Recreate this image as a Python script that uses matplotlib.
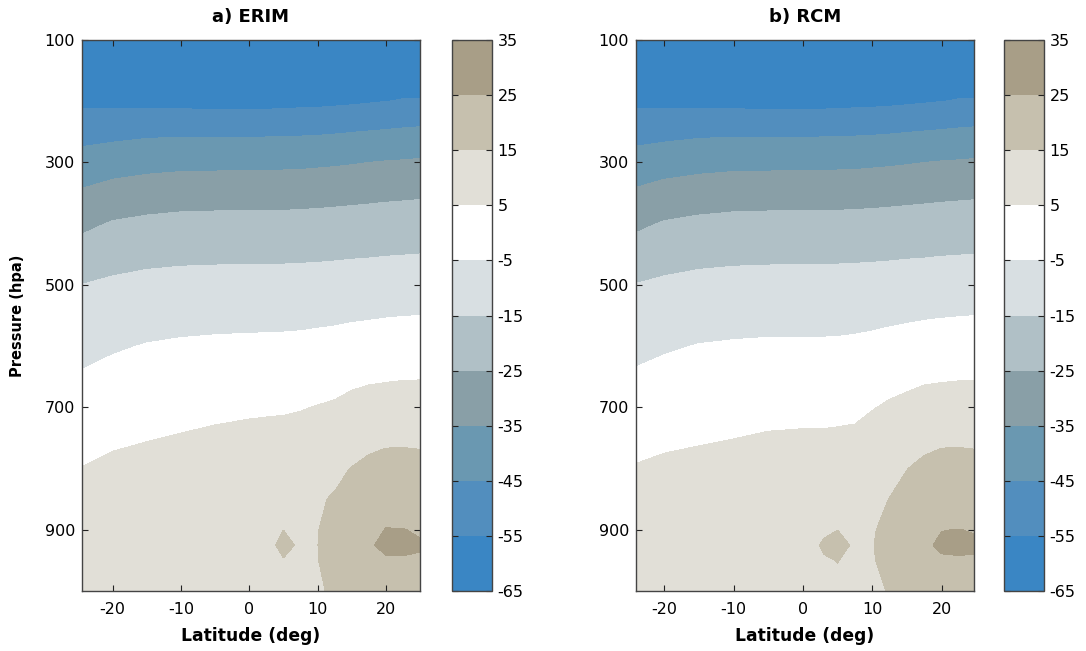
import numpy as np
import matplotlib.pyplot as plt

plt.rcParams['font.family'] = ['DejaVu Sans']
plt.rcParams['axes.unicode_minus'] = False

# zonal mean temperature (deg C), rows = pressure levels, columns = latitudes
lats = [-24.5, -20, -15, -10, -5, 0, 3, 5, 7.5, 10, 12.5, 15, 17.5, 20, 22.5, 25]
pressure = [100, 200, 250, 300, 350, 400, 500, 600, 700, 750, 800, 850, 900, 925, 950, 1000]

erim_temp = [
    [-64.5] * 16,
    [-56.9, -57.1, -57.6, -57.8, -58.0, -58.0, -57.9, -57.7, -57.4, -57.2, -56.8, -56.3, -55.7, -55.1, -54.6, -54.5],
    [-48.7, -47.9, -46.9, -46.6, -46.6, -46.6, -46.6, -46.5, -46.3, -46.1, -45.7, -45.2, -44.7, -44.2, -43.6, -43.1],
    [-41.1, -39.3, -38.1, -37.4, -37.3, -37.2, -37.1, -37.0, -36.9, -36.5, -36.1, -35.6, -35.0, -34.5, -34.2, -33.8],
    [-33.9, -31.5, -30.1, -29.3, -29.1, -29.0, -28.9, -28.9, -28.7, -28.4, -28.1, -27.7, -27.3, -26.9, -26.6, -26.3],
    [-27.1, -24.3, -23.0, -22.3, -22.1, -22.0, -22.0, -22.0, -21.8, -21.7, -21.4, -21.1, -20.9, -20.6, -20.4, -20.2],
    [-14.9, -13.4, -12.3, -11.8, -11.6, -11.4, -11.4, -11.4, -11.3, -11.1, -10.9, -10.6, -10.4, -10.1, -9.9, -9.7],
    [-7.5, -5.9, -4.6, -3.9, -3.5, -3.3, -3.2, -3.1, -2.9, -2.5, -2.1, -1.5, -1.1, -0.7, -0.4, -0.3],
    [-0.95, 0.5, 1.6, 2.4, 3.1, 3.7, 4.0, 4.1, 4.55, 5.3, 6.0, 7.5, 8.5, 8.9, 9.2, 9.3],
    [2.1, 3.6, 4.6, 5.5, 6.4, 7.1, 7.3, 7.5, 8.1, 8.8, 9.8, 11.5, 13.2, 14.0, 14.0, 13.8],
    [5.2, 6.8, 7.9, 8.3, 9.0, 9.4, 9.6, 9.8, 10.3, 11.3, 13.6, 15.2, 16.5, 17.0, 17.2, 17.0],
    [8.0, 9.0, 9.8, 10.3, 10.8, 11.2, 11.4, 11.6, 12.2, 14.4, 15.5, 17.0, 18.5, 20.5, 21.0, 20.5],
    [10.5, 11.5, 12.0, 12.3, 12.6, 13.0, 13.2, 14.98, 14.2, 14.9, 16.2, 18.5, 22.0, 25.3, 25.2, 24.3],
    [11.5, 12.5, 13.0, 13.2, 13.4, 13.8, 14.4, 15.8, 14.55, 14.95, 17.0, 19.0, 24.5, 26.0, 26.8, 25.6],
    [12.0, 13.0, 13.5, 13.6, 13.8, 14.0, 14.1, 14.85, 14.5, 14.9, 16.5, 18.5, 22.5, 24.5, 24.2, 24.3],
    [13.0, 13.5, 14.0, 14.1, 14.2, 14.3, 14.4, 14.5, 14.6, 14.6, 15.5, 17.5, 19.0, 21.0, 21.5, 21.5],
]

rcm_temp = [
    [-64.5] * 16,
    [-56.9, -57.1, -57.6, -57.8, -58.0, -58.0, -57.9, -57.7, -57.4, -57.2, -56.8, -56.3, -55.7, -55.1, -54.6, -54.5],
    [-48.7, -47.9, -46.9, -46.6, -46.6, -46.6, -46.6, -46.5, -46.3, -46.1, -45.7, -45.2, -44.7, -44.2, -43.6, -43.1],
    [-41.1, -39.3, -38.1, -37.4, -37.3, -37.2, -37.1, -37.0, -36.9, -36.5, -36.1, -35.6, -35.0, -34.5, -34.2, -33.8],
    [-33.9, -31.5, -30.1, -29.3, -29.1, -29.0, -28.9, -28.9, -28.7, -28.4, -28.1, -27.7, -27.3, -26.9, -26.6, -26.3],
    [-27.1, -24.3, -23.0, -22.3, -22.1, -22.0, -22.0, -22.0, -21.8, -21.7, -21.4, -21.1, -20.9, -20.6, -20.4, -20.2],
    [-14.9, -13.4, -12.3, -11.8, -11.6, -11.4, -11.4, -11.4, -11.3, -11.1, -10.9, -10.6, -10.4, -10.1, -9.9, -9.7],
    [-7.4, -5.9, -4.7, -4.2, -3.9, -3.9, -3.9, -3.8, -3.5, -3.0, -2.3, -1.7, -1.1, -0.75, -0.5, -0.3],
    [-0.8, 0.4, 1.2, 1.85, 2.5, 2.7, 2.7, 2.9, 3.2, 4.6, 6.1, 7.25, 8.5, 8.9, 9.2, 9.3],
    [2.3, 3.4, 4.2, 4.9, 5.7, 6.0, 6.0, 6.2, 6.5, 8.4, 9.8, 11.3, 13.0, 14.0, 14.0, 13.8],
    [5.4, 6.6, 7.3, 8.1, 8.6, 9.0, 9.1, 9.3, 9.8, 11.0, 13.4, 14.9, 16.5, 17.0, 17.2, 17.0],
    [8.0, 9.0, 9.8, 10.3, 10.7, 11.0, 11.3, 11.5, 12.0, 13.8, 15.1, 17.0, 18.5, 20.5, 21.0, 20.5],
    [10.5, 11.5, 12.0, 12.3, 12.6, 12.9, 14.6, 14.98, 14.2, 14.7, 16.0, 18.5, 22.0, 24.9, 25.1, 24.6],
    [11.5, 12.5, 13.0, 13.2, 13.4, 13.8, 15.3, 15.9, 14.6, 14.8, 16.8, 19.0, 24.2, 25.8, 26.5, 25.8],
    [12.0, 13.0, 13.5, 13.6, 13.8, 14.0, 14.8, 15.05, 14.5, 14.7, 16.3, 18.5, 22.5, 24.4, 24.3, 24.4],
    [13.0, 13.5, 14.0, 14.1, 14.2, 14.3, 14.4, 14.5, 14.5, 14.3, 15.2, 17.3, 19.0, 21.0, 21.5, 21.5],
]

levels = [-65, -55, -45, -35, -25, -15, -5, 5, 15, 25, 35]
level_colors = ['#3a86c4', '#528ebe', '#6a98b1', '#899fa7', '#b0c0c6',
                '#d8dfe2', '#ffffff', '#e1dfd7', '#c6c0ae', '#a89e87']

titles = ['a) ERIM', 'b) RCM']
fields = [erim_temp, rcm_temp]
xlims = [(-24.5, 25.0), (-24.05, 24.65)]
ax_lefts = [82, 636]
cb_lefts = [452, 1004]

W, H = 1086, 651
fig = plt.figure(figsize=(W / 100, H / 100), dpi=100)

edge = '#444444'
for i in range(2):
    ax = fig.add_axes([ax_lefts[i] / W, 60 / H, 338 / W, 551 / H])
    cax = fig.add_axes([cb_lefts[i] / W, 60 / H, 40 / W, 551 / H])

    cs = ax.contourf(lats, pressure, np.array(fields[i]), levels=levels, colors=level_colors)
    ax.set_xlim(*xlims[i])
    ax.set_ylim(1000, 100)
    ax.set_xticks([-20, -10, 0, 10, 20])
    ax.set_yticks([100, 300, 500, 700, 900])
    ax.tick_params(direction='in', top=True, right=True, length=4, width=0.8,
                   color='#222222', labelsize=11.5)
    ax.tick_params(axis='x', pad=8)
    ax.tick_params(axis='y', pad=5)
    for s in ax.spines.values():
        s.set_color(edge)
        s.set_linewidth(1.0)
    ax.set_title(titles[i], fontsize=13, fontweight='bold', pad=13)
    ax.set_xlabel('Latitude (deg)', fontsize=12.3, fontweight='bold', labelpad=7)
    if i == 0:
        ax.set_ylabel('Pressure (hpa)', fontsize=10.5, fontweight='bold', labelpad=14)

    cb = fig.colorbar(cs, cax=cax, ticks=levels)
    cb.ax.tick_params(direction='in', left=True, right=True, length=4, width=0.8,
                      color='#222222', labelsize=11.5, pad=4)
    cb.outline.set_edgecolor(edge)
    cb.outline.set_linewidth(1.0)

fig.savefig('out.png', dpi=100)
